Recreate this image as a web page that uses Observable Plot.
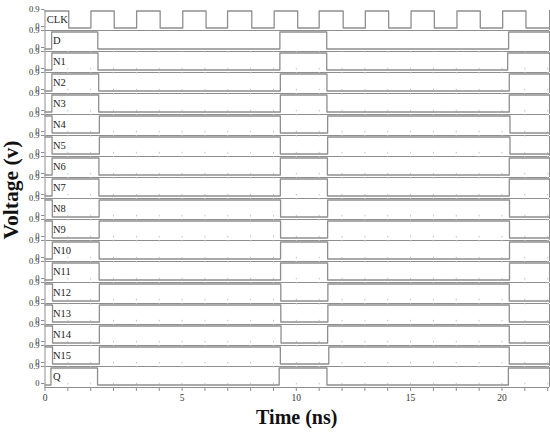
<!DOCTYPE html>
<html><head><meta charset="utf-8">
<script src="https://cdn.jsdelivr.net/npm/d3@7"></script>
<script src="https://cdn.jsdelivr.net/npm/@observablehq/plot@0.6"></script>
<style>body{margin:0;background:#fff}#chart{width:550px;height:432px}</style>
</head><body><div id="chart"></div>
<script>
// ---- data ----
const signalNames = ["CLK","D","N1","N2","N3","N4","N5","N6","N7","N8","N9","N10","N11","N12","N13","N14","N15","Q"];
const startLevels = [0.9,0,0,0,0,0.9,0.9,0,0,0.9,0.9,0,0,0.9,0.9,0.9,0.9,0];
const edgesCLK = [1.04,2.01,3.03,4.01,5.04,6.03,7.05,7.99,9.05,10.03,11.06,12.0,13.05,14.02,15.04,16.02,17.04,18.03,19.05,20.03,21.05];
const edgesD   = [0.29,2.31,10.28,12.33,20.29];
const edgesN1  = [0.30,2.32,10.28,12.33,20.25];
const edgesN2  = [0.30,2.35,10.30,12.34,20.32];
const edgesN3  = [0.30,2.35,10.30,12.34,20.32];
const edgesN4  = [0.31,2.38,10.30,12.37,20.35];
const edgesN5  = [0.31,2.38,10.30,12.37,20.35];
const edgesN6  = [0.31,2.36,10.30,12.36,20.32];
const edgesN7  = [0.31,2.36,10.30,12.36,20.32];
const edgesN8  = [0.32,2.37,10.31,12.37,20.33];
const edgesN9  = [0.32,2.37,10.31,12.37,20.33];
const edgesN10 = [0.32,2.37,10.31,12.37,20.33];
const edgesN11 = [0.32,2.37,10.31,12.37,20.33];
const edgesN12 = [0.33,2.38,10.32,12.38,20.32];
const edgesN13 = [0.33,2.38,10.32,12.38,20.32];
const edgesN14 = [0.33,2.38,10.33,12.37,20.32];
const edgesN15 = [0.33,2.38,10.30,12.42,20.32];
const edgesQ   = [0.26,2.30,10.25,12.34,20.28];
const signalEdges = [edgesCLK,edgesD,edgesN1,edgesN2,edgesN3,edgesN4,edgesN5,edgesN6,edgesN7,edgesN8,edgesN9,edgesN10,edgesN11,edgesN12,edgesN13,edgesN14,edgesN15,edgesQ];
const xTickValues = [0,1,2,3,4,5,6,7,8,9,10,11,12,13,14,15,16,17,18,19,20,21,22];
const xLabelPositions = [0,6,11,16,20];
const xLabelTexts = ["0","5","10","15","20"];
const yTickValues = [0,0.9];
const xLabel = "Time (ns)";
const yLabel = "Voltage (v)";

// ---- build ----
const X_MAX = 22.08, Y_MIN = -0.132, Y_MAX = 0.926, HIGH = 0.9;
const points = [];
signalNames.forEach((name, i) => {
  let v = startLevels[i];
  points.push({name, t: 0, v});
  for (const e of signalEdges[i]) { v = v > 0 ? 0 : HIGH; points.push({name, t: e, v}); }
  points.push({name, t: X_MAX, v});
});
const labelData = signalNames.map(name => ({name}));
const innerTickRows = signalNames.filter(n => n !== "CLK" && n !== "D");
const innerTicks = innerTickRows.flatMap(name => xTickValues.map(t => ({name, t})));

const gray = "#8e8e8e";
const chart = Plot.plot({
  width: 550, height: 432,
  marginLeft: 44.5, marginRight: 1, marginTop: 6, marginBottom: 40.5,
  style: {fontFamily: "'Liberation Serif', 'Times New Roman', serif", background: "#fff", color: "#222"},
  x: {domain: [0, X_MAX], axis: null},
  y: {domain: [Y_MIN, Y_MAX], axis: null},
  fy: {domain: signalNames, axis: null, paddingInner: 1.5/21.5, paddingOuter: 0},
  marks: [
    Plot.ruleY([Y_MIN], {stroke: gray, strokeWidth: 1}),
    Plot.ruleX([X_MAX], {stroke: gray, strokeWidth: 1}),
    Plot.ruleX([0], {stroke: gray, strokeWidth: 1}),
    Plot.ruleX(innerTicks, {x: "t", fy: "name", y1: 0, y2: 0.09, stroke: "#c4c4c4", strokeWidth: 1}),
    Plot.ruleX(innerTicks, {x: "t", fy: "name", y1: HIGH, y2: Y_MAX + 0.05, stroke: "#c4c4c4", strokeWidth: 1}),
    Plot.line(points, {x: "t", y: "v", z: "name", fy: "name", curve: "step-after", stroke: gray, strokeWidth: 1.3}),
    Plot.text(labelData, {fy: "name", x: 0, y: 0.42, text: "name",
      dx: 8, textAnchor: "start", fontSize: 10.5, fill: "#222",
      filter: d => d.name !== "CLK"}),
    Plot.text(labelData, {fy: "name", x: 0, y: 0.42, text: "name",
      dx: 1.8, textAnchor: "start", fontSize: 10.5, fill: "#222",
      filter: d => d.name === "CLK"}),
    Plot.axisY(yTickValues, {anchor: "left", label: null, tickSize: 3.5, tickPadding: 2, fontSize: 8.5, dy: -1.5,
      stroke: gray, fill: "#333", tickFormat: d => d === 0 ? "0" : String(d)}),
    Plot.axisX(xTickValues, {anchor: "bottom", label: null, tickSize: 4, tickPadding: 3, fontSize: 9.5, stroke: gray, fill: "#333",
      tickFormat: d => { const k = xLabelPositions.indexOf(d); return k >= 0 ? xLabelTexts[k] : ""; }})
  ]
});
const svg = d3.select(chart);
svg.append("text").text(xLabel)
  .attr("x", (44.5 + 549) / 2).attr("y", 424)
  .attr("text-anchor", "middle")
  .attr("font-family", "'Liberation Serif', serif").attr("font-weight", "bold")
  .attr("font-size", 20).attr("fill", "#111");
svg.append("text").text(yLabel)
  .attr("transform", "translate(17.5,190) rotate(-90)")
  .attr("text-anchor", "middle")
  .attr("font-family", "'Liberation Serif', serif").attr("font-weight", "bold")
  .attr("font-size", 21.5).attr("fill", "#111");
document.getElementById("chart").appendChild(chart);
</script>
</body></html>
